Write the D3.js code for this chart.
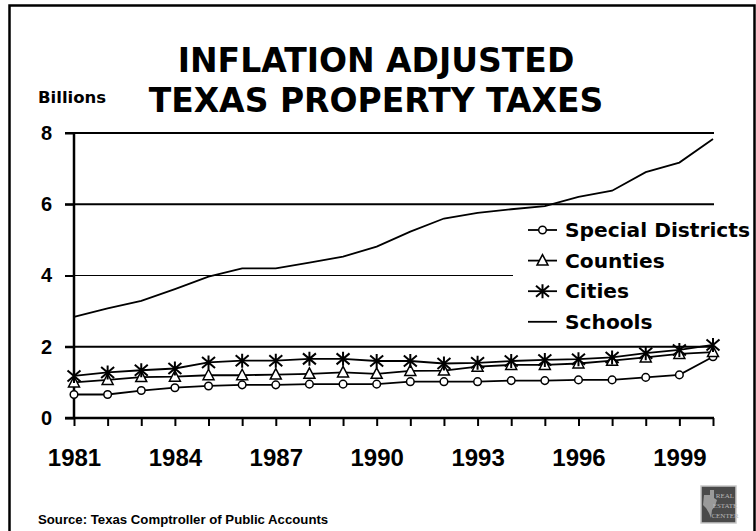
<!DOCTYPE html>
<html>
<head>
<meta charset="utf-8">
<script src="https://cdn.jsdelivr.net/npm/d3@7"></script>
<style>
  html, body { margin: 0; padding: 0; background: #fff; }
  svg { display: block; font-family: "DejaVu Sans", Verdana, sans-serif; font-weight: bold; }
</style>
</head>
<body>
<svg id="chart" width="756" height="531"></svg>
<script>
// Inflation adjusted Texas property taxes, billions of dollars
const years = [1981, 1982, 1983, 1984, 1985, 1986, 1987, 1988, 1989, 1990,
               1991, 1992, 1993, 1994, 1995, 1996, 1997, 1998, 1999, 2000];
const specialDistricts = [0.66, 0.66, 0.77, 0.85, 0.90, 0.93, 0.93, 0.95, 0.95, 0.95,
                          1.02, 1.02, 1.02, 1.05, 1.05, 1.07, 1.07, 1.14, 1.21, 1.72];
const counties = [1.00, 1.07, 1.15, 1.16, 1.20, 1.20, 1.22, 1.24, 1.28, 1.24,
                  1.32, 1.33, 1.44, 1.49, 1.49, 1.53, 1.61, 1.70, 1.80, 1.85];
const cities = [1.18, 1.28, 1.34, 1.39, 1.56, 1.61, 1.61, 1.66, 1.66, 1.60,
                1.60, 1.53, 1.55, 1.60, 1.63, 1.65, 1.70, 1.82, 1.91, 2.05];
const schools = [2.84, 3.08, 3.29, 3.62, 3.97, 4.20, 4.20, 4.36, 4.53, 4.81,
                 5.23, 5.60, 5.76, 5.86, 5.95, 6.21, 6.38, 6.90, 7.17, 7.83];
const yTicks = [0, 2, 4, 6, 8];
const labeledYears = [1981, 1984, 1987, 1990, 1993, 1996, 1999];
const seriesNames = ["Special Districts", "Counties", "Cities", "Schools"];
const seriesMarkers = ["circle", "triangle", "star", "none"];
const titleLines = ["INFLATION ADJUSTED", "TEXAS PROPERTY TAXES"];

const series = [specialDistricts, counties, cities, schools].map((values, i) => ({
  name: seriesNames[i], marker: seriesMarkers[i], values
}));

const svg = d3.select("#chart");

// outer frame
svg.append("path")
  .attr("d", "M9.5,531 V5.5 H754.5 V531")
  .attr("fill", "none").attr("stroke", "#000").attr("stroke-width", 2.5);

const x = d3.scalePoint().domain(years).range([74, 713]);
const y = d3.scaleLinear().domain([0, 8]).range([418, 133]);

// title
svg.append("g").selectAll("text").data(titleLines).join("text")
  .attr("x", 376).attr("y", (d, i) => 72 + i * 40)
  .attr("text-anchor", "middle")
  .attr("font-size", 33)
  .text(d => d);

svg.append("text").attr("x", 38).attr("y", 103)
  .attr("font-size", 16.5).text("Billions");

// horizontal gridlines
svg.append("g").selectAll("line").data(yTicks.filter(d => d > 0)).join("line")
  .attr("x1", 65).attr("x2", 714)
  .attr("y1", d => y(d)).attr("y2", d => y(d))
  .attr("stroke", "#000")
  .attr("stroke-width", d => d === 4 ? 1 : 2);

// y axis
const yAxis = svg.append("g").attr("transform", "translate(74,0)")
  .call(d3.axisLeft(y).tickValues(yTicks).tickSize(9).tickPadding(13).tickFormat(d3.format("d")));
yAxis.select(".domain").remove();
yAxis.selectAll(".tick line").attr("stroke", "#000").attr("stroke-width", 2);
yAxis.selectAll("text").attr("font-size", 20).attr("font-family", null).attr("fill", "#000");
svg.append("line").attr("x1", 74).attr("x2", 74).attr("y1", y(8) - 1).attr("y2", y(0) + 1)
  .attr("stroke", "#000").attr("stroke-width", 2.5);

// x axis
const xAxis = svg.append("g").attr("transform", `translate(0,${y(0)})`)
  .call(d3.axisBottom(x).tickSize(8).tickPadding(23)
    .tickFormat(d => labeledYears.includes(d) ? d : ""));
xAxis.select(".domain").remove();
xAxis.selectAll(".tick line").attr("stroke", "#000").attr("stroke-width", 2);
xAxis.selectAll("text").attr("font-size", 24).attr("font-family", null).attr("fill", "#000");
svg.append("line").attr("x1", 65).attr("x2", 714).attr("y1", y(0)).attr("y2", y(0))
  .attr("stroke", "#000").attr("stroke-width", 2.5);

// markers
function drawMarker(g, type) {
  if (type === "circle") {
    g.append("circle").attr("r", 3.8).attr("fill", "#fff").attr("stroke", "#000").attr("stroke-width", 1.5);
  } else if (type === "triangle") {
    g.append("path").attr("d", "M0,-6 L5.5,4.5 L-5.5,4.5 Z")
      .attr("fill", "#fff").attr("stroke", "#000").attr("stroke-width", 1.5);
  } else if (type === "star") {
    g.append("path").attr("d", "M0,-7 V7 M-6.5,-5.5 L6.5,5.5 M-6.5,5.5 L6.5,-5.5")
      .attr("fill", "none").attr("stroke", "#000").attr("stroke-width", 2);
  }
}

const line = d3.line().x((d, i) => x(years[i])).y(d => y(d));

const seriesG = svg.append("g").selectAll("g").data(series).join("g");
seriesG.append("path")
  .attr("d", d => line(d.values))
  .attr("fill", "none").attr("stroke", "#000").attr("stroke-width", 1.8);
seriesG.each(function (s) {
  if (s.marker === "none") return;
  d3.select(this).selectAll("g.pt").data(s.values).join("g")
    .attr("class", "pt")
    .attr("transform", (d, i) => `translate(${x(years[i])},${y(d)})`)
    .each(function () { drawMarker(d3.select(this), s.marker); });
});

// legend
const legend = svg.append("g");
legend.append("rect").attr("x", 513).attr("y", 214).attr("width", 240).attr("height", 122).attr("fill", "#fff");
const items = legend.selectAll("g.item").data(series).join("g")
  .attr("class", "item")
  .attr("transform", (d, i) => `translate(528,${230 + i * 30.6})`);
items.append("line").attr("x1", 0).attr("x2", 29).attr("stroke", "#000").attr("stroke-width", 1.8);
items.each(function (s) {
  const m = d3.select(this).append("g").attr("transform", "translate(14.5,0)");
  drawMarker(m, s.marker);
});
items.append("text").attr("x", 37).attr("dy", "0.36em").attr("font-size", 20.2).text(d => d.name);

// source note
svg.append("text").attr("x", 38).attr("y", 524).attr("font-size", 13.2)
  .attr("font-family", "Liberation Sans, Arial, sans-serif")
  .text("Source: Texas Comptroller of Public Accounts");

// center logo
const logo = svg.append("g").attr("transform", "translate(701,486)");
logo.append("rect").attr("width", 35).attr("height", 37).attr("fill", "#4a4a4a")
  .attr("stroke", "#c8c8c8").attr("stroke-width", 1.5);
logo.append("path")
  .attr("d", "M3,9 L9,9 L9,4 L13,4 L13,12 L16,14 L14,20 L11,24 L10,32 L8,27 L5,22 L2,19 Z")
  .attr("fill", "#9a9a9a");
logo.selectAll("text").data(["REAL", "ESTATE", "CENTER"]).join("text")
  .attr("x", 24).attr("y", (d, i) => 12 + i * 10)
  .attr("text-anchor", "middle").attr("font-size", 7).attr("font-family", "Liberation Serif, serif")
  .attr("font-weight", "normal").attr("fill", "#b8b8b8")
  .text(d => d);
</script>
</body>
</html>
